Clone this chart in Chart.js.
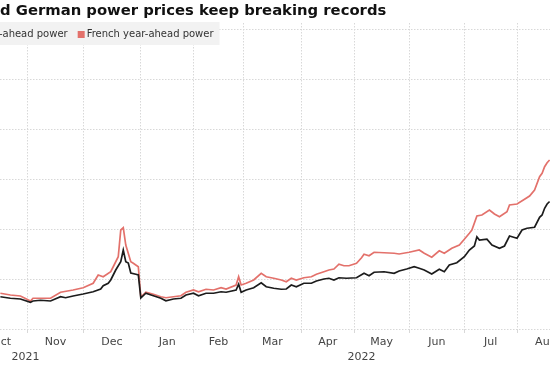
<!DOCTYPE html>
<html>
<head>
<meta charset="utf-8">
<script src="https://cdn.jsdelivr.net/npm/chart.js@4.4.0/dist/chart.umd.min.js"></script>
<style>
  html, body { margin: 0; padding: 0; background: #fff; overflow: hidden; }
  #wrap { position: relative; width: 550px; height: 366px; }
</style>
</head>
<body>
<div id="wrap"><canvas id="myChart"></canvas></div>
<script>
// x = trading day count since 1 Oct 2021, y = EUR/MWh
const monthStarts = [0, 21, 43, 66, 87, 107, 130, 151, 173, 195, 216, 239];
const monthNames = ["Oct", "Nov", "Dec", "Jan", "Feb", "Mar", "Apr", "May", "Jun", "Jul", "Aug"];
const yearTicks = [20, 154];
const yearNames = ["2021", "2022"];
const yTicks = [0, 200, 400, 600, 800, 1000, 1200];

const germanDays = [10, 14, 18, 22, 23, 26, 30, 34, 36, 39, 43, 47, 50, 51, 53, 54, 55, 56, 58, 59, 60, 61, 62, 64, 65, 66,
	68, 71, 74, 76, 79, 82, 84, 87, 89, 92, 95, 98, 100, 104, 105, 106, 108, 111, 114, 116, 119, 122,
	124, 126, 128, 131, 134, 136, 139, 141, 143, 145, 148, 152, 155, 157, 159, 163, 167, 169, 172, 175,
	177, 179, 182, 185, 187, 189, 192, 195, 197, 199, 200, 201, 204, 206, 209, 211, 213, 214, 216, 218,
	220, 223, 225, 226, 227, 228, 229];
const germanPrices = [129, 123, 120, 107, 112, 115, 112, 129, 125, 132, 140, 149, 160, 173, 183, 196, 216, 236, 269, 316, 269, 264, 224, 219, 216, 124,
	143, 133, 123, 113, 120, 123, 136, 143, 133, 143, 143, 149, 147, 156, 179, 147, 156, 165, 185, 169, 163, 159,
	160, 176, 169, 183, 183, 192, 200, 203, 196, 205, 203, 205, 223, 213, 227, 229, 223, 232, 240, 249,
	243, 236, 220, 239, 229, 256, 265, 289, 316, 332, 369, 356, 359, 336, 323, 332, 372, 369, 363, 396,
	403, 407, 447, 456, 483, 500, 510];

const frenchDays = [10, 14, 18, 22, 23, 30, 34, 39, 43, 47, 49, 51, 54, 55, 57, 58, 59, 60, 62, 63, 65, 66,
	68, 71, 74, 76, 79, 82, 84, 87, 89, 92, 95, 98, 100, 104, 105, 106, 108, 111, 114, 116, 119, 122,
	124, 126, 128, 131, 134, 136, 139, 141, 143, 145, 147, 149, 152, 154, 155, 157, 159, 163, 167, 169,
	173, 177, 179, 182, 185, 187, 190, 193, 195, 197, 198, 200, 202, 205, 207, 209, 212, 213, 216, 219,
	221, 223, 225, 226, 227, 228, 229];
const frenchPrices = [143, 136, 132, 112, 123, 123, 147, 156, 165, 183, 216, 209, 229, 249, 289, 396, 405, 336, 269, 263, 249, 128,
	147, 139, 129, 125, 129, 133, 147, 156, 149, 159, 156, 165, 160, 176, 209, 176, 183, 196, 223, 209, 203, 196,
	189, 203, 196, 205, 209, 219, 229, 236, 240, 259, 253, 253, 263, 285, 299, 293, 307, 305, 303, 300,
	307, 316, 303, 287, 313, 303, 323, 336, 359, 383, 396, 452, 456, 476, 460, 449, 469, 496, 500, 519,
	532, 556, 609, 623, 649, 665, 676];

const titleText = "French and German power prices keep breaking records";
const cropLeft = 82; // the picture is cut off on the left
const xMin = 9.85, xMax = 229.15, yMax = 1224;
const gridColor = "#d8d8d8";
const fontFamily = "'DejaVu Sans', sans-serif";

Chart.defaults.font.family = fontFamily;

const toPoints = (days, vals) => days.map((d, i) => ({ x: d, y: vals[i] }));

const monthMids = monthNames.map((m, i) => (monthStarts[i] + monthStarts[i + 1]) / 2);

// title + legend with grey background, drawn over the grid
const headerPlugin = {
	id: "header",
	afterDraw(chart) {
		const ctx = chart.ctx;
		ctx.save();
		ctx.fillStyle = "#111";
		ctx.font = "bold 14.8px " + fontFamily;
		ctx.textBaseline = "alphabetic";
		ctx.textAlign = "left";
		ctx.fillText(titleText, -cropLeft, 15);

		ctx.font = "10px " + fontFamily;
		ctx.textBaseline = "middle";
		const sets = chart.data.datasets;
		let x = -cropLeft + 7;
		const items = sets.map((ds) => {
			const it = { x: x, color: ds.borderColor, text: ds.label };
			x += 9 + ctx.measureText(ds.label).width + 10;
			return it;
		});
		ctx.fillStyle = "#f2f2f2";
		ctx.fillRect(-cropLeft, 22, x - 10 + 6 + cropLeft, 23);
		items.forEach((it) => {
			ctx.fillStyle = it.color;
			ctx.fillRect(it.x, 31, 7, 7);
			ctx.fillStyle = "#333";
			ctx.fillText(it.text, it.x + 9, 34.5);
		});
		ctx.restore();
	},
};

const ctx = document.getElementById("myChart").getContext("2d");
const myChart = new Chart(ctx, {
	type: "line",
	data: {
		datasets: [
			{
				label: "German year-ahead power",
				data: toPoints(germanDays, germanPrices),
				borderColor: "#1c1c1c",
				borderWidth: 1.7,
				pointRadius: 0,
				tension: 0,
			},
			{
				label: "French year-ahead power",
				data: toPoints(frenchDays, frenchPrices),
				borderColor: "#e3716b",
				borderWidth: 1.7,
				pointRadius: 0,
				tension: 0,
			},
		],
	},
	options: {
		responsive: true,
		maintainAspectRatio: false,
		animation: false,
		layout: { padding: { top: 23, left: 0, right: 0, bottom: 0 } },
		plugins: {
			legend: { display: false },
			title: { display: false },
			tooltip: { enabled: false },
		},
		scales: {
			x: {
				type: "linear",
				min: xMin,
				max: xMax,
				afterBuildTicks: (s) => {
					const vals = monthStarts.concat(monthMids).filter((v) => v >= xMin && v <= xMax);
					vals.sort((a, b) => a - b);
					s.ticks = vals.map((v) => ({ value: v }));
				},
				afterFit: (s) => {
					s.paddingLeft = 0;
					s.paddingRight = 0;
					s.height = 20;
				},
				grid: {
					color: (c) => (c.tick && monthStarts.includes(c.tick.value) ? gridColor : "rgba(0,0,0,0)"),
					tickLength: 4,
				},
				border: { display: false, dash: [1.5, 1.5] },
				ticks: {
					autoSkip: false,
					maxRotation: 0,
					minRotation: 0,
					padding: 3,
					color: "#444",
					font: { size: 11 },
					callback: (v) => {
						const i = monthMids.indexOf(v);
						return i >= 0 ? monthNames[i] : "";
					},
				},
			},
			years: {
				type: "linear",
				position: "bottom",
				min: xMin,
				max: xMax,
				afterBuildTicks: (s) => {
					s.ticks = yearTicks.map((v) => ({ value: v }));
				},
				afterFit: (s) => {
					s.paddingLeft = 0;
					s.paddingRight = 0;
					s.height = 17;
				},
				grid: { display: false, drawTicks: false },
				border: { display: false },
				ticks: {
					autoSkip: false,
					maxRotation: 0,
					padding: 2,
					color: "#444",
					font: { size: 11 },
					callback: (v) => yearNames[yearTicks.indexOf(v)],
				},
			},
			y: {
				min: 0,
				max: yMax,
				afterBuildTicks: (s) => {
					s.ticks = yTicks.map((v) => ({ value: v }));
				},
				afterFit: (s) => {
					s.width = 0;
				},
				ticks: { display: false },
				grid: { color: gridColor, drawTicks: false },
				border: { display: false, dash: [1.5, 1.5] },
			},
		},
	},
	plugins: [headerPlugin],
});
</script>
</body>
</html>
